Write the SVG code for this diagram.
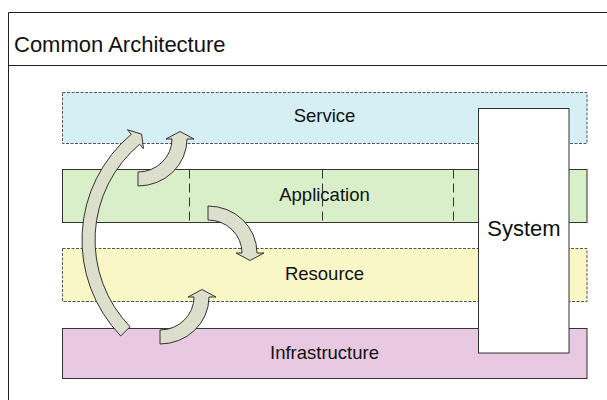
<svg xmlns="http://www.w3.org/2000/svg" width="607" height="400" viewBox="0 0 607 400">
  <defs>
    <style>
      text { font-family: "Liberation Sans", Arial, sans-serif; fill: #111; }
      .title { font-size: 22px; }
      .label { font-size: 18.5px; text-anchor: middle; }
      .sys { font-size: 22px; text-anchor: middle; }
      .frame { fill: none; stroke: #222; stroke-width: 1; }
      .dashed { stroke: #555; stroke-width: 1; stroke-dasharray: 3 1.5; }
      .solid { stroke: #333; stroke-width: 1; }
      .divider { stroke: #333; stroke-width: 1; stroke-dasharray: 9 5; fill: none; }
      .arrow { fill: #dbdfcb; stroke: #333; stroke-width: 1; stroke-linejoin: miter; }
    </style>
    <!-- quarter-turn block arrow, tail pointing left, head pointing up -->
    <path id="turn" d="M 0,47 A 49 47 0 0 0 49,0 L 56,0 L 42,-7.5 L 28,0 L 34,0 A 34 33 0 0 1 0,33 Z"/>
  </defs>

  <rect width="607" height="400" fill="#ffffff"/>

  <!-- outer frame with title row -->
  <g id="frame">
    <path class="frame" d="M 607,12.5 H 8.5 V 400"/>
    <path class="frame" d="M 8.5,65.5 H 607"/>
    <text class="title" x="14" y="52">Common Architecture</text>
  </g>

  <!-- layer bands -->
  <g id="service">
    <rect class="dashed" x="62.5" y="92.5" width="524.5" height="51" fill="#d5eff4"/>
    <text class="label" x="324.5" y="122">Service</text>
  </g>
  <g id="application">
    <rect class="solid" x="62.5" y="169.5" width="524.5" height="53" fill="#d9efca"/>
    <text class="label" x="324.5" y="201">Application</text>
    <path class="divider" d="M 189.5,169.5 V 222.5 M 322.5,169.5 V 222.5 M 453.5,169.5 V 222.5"/>
  </g>
  <g id="resource">
    <rect class="dashed" x="62.5" y="248.5" width="524.5" height="53" fill="#faf7c6"/>
    <text class="label" x="324.5" y="280">Resource</text>
  </g>
  <g id="infrastructure">
    <rect class="solid" x="62.5" y="328.5" width="524.5" height="50" fill="#e9c9e1"/>
    <text class="label" x="324.5" y="359">Infrastructure</text>
  </g>

  <!-- system box spanning all layers -->
  <g id="system">
    <rect class="solid" x="478.5" y="108.5" width="90.5" height="244.5" fill="#ffffff"/>
    <text class="sys" x="524" y="236">System</text>
  </g>

  <!-- curved arrows between layers -->
  <g id="connectors">
    <path class="arrow" d="M 120.7,335.9 A 138 138 0 0 1 131.3,134.3 L 127.4,129.7 L 141.6,134.2 L 143.5,148.8 L 139.65,144.25 A 125 125 0 0 0 130.1,326.8 Z"/>
    <use href="#turn" class="arrow" transform="translate(138,139)"/>
    <use href="#turn" class="arrow" transform="translate(208,253) scale(1,-1)"/>
    <use href="#turn" class="arrow" transform="translate(160,297)"/>
  </g>
</svg>
